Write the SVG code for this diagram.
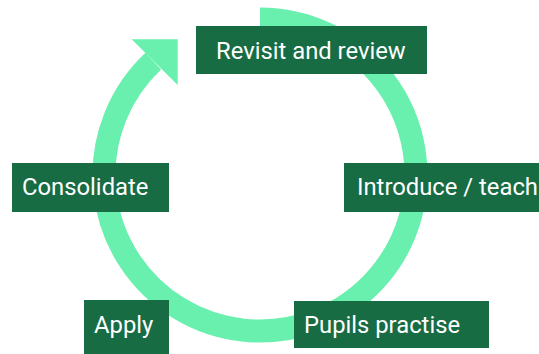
<svg xmlns="http://www.w3.org/2000/svg" width="539" height="354" viewBox="0 0 539 354">
  <style>
    .box { fill: #176C43; }
    .label { fill: #FFFFFF; font-family: Roboto, "Liberation Sans", sans-serif; font-size: 23.8px; }
    .ring { fill: none; stroke: #69F0AE; stroke-width: 23; stroke-linecap: butt; }
    .head { fill: #69F0AE; }
  </style>
  <rect width="539" height="354" fill="#FFFFFF"/>

  <!-- cycle ring with arrowhead -->
  <g id="connectors">
    <path class="ring" d="M 260 19 A 156 156 0 1 1 153.3 61.2"/>
    <polygon class="head" points="131.7,39.3 177.7,39.3 177.7,85"/>
  </g>

  <g id="revisit">
    <rect class="box" x="196" y="26" width="231" height="48"/>
    <text class="label" x="216" y="59">Revisit and review</text>
  </g>
  <g id="introduce">
    <rect class="box" x="344" y="163" width="200" height="49"/>
    <text class="label" x="357" y="195">Introduce / teach</text>
  </g>
  <g id="consolidate">
    <rect class="box" x="12" y="163" width="157" height="49"/>
    <text class="label" x="22" y="195">Consolidate</text>
  </g>
  <g id="apply">
    <rect class="box" x="84" y="300" width="85" height="60"/>
    <text class="label" x="94" y="333">Apply</text>
  </g>
  <g id="practise">
    <rect class="box" x="294" y="301" width="195" height="47"/>
    <text class="label" x="304" y="333">Pupils practise</text>
  </g>
</svg>
